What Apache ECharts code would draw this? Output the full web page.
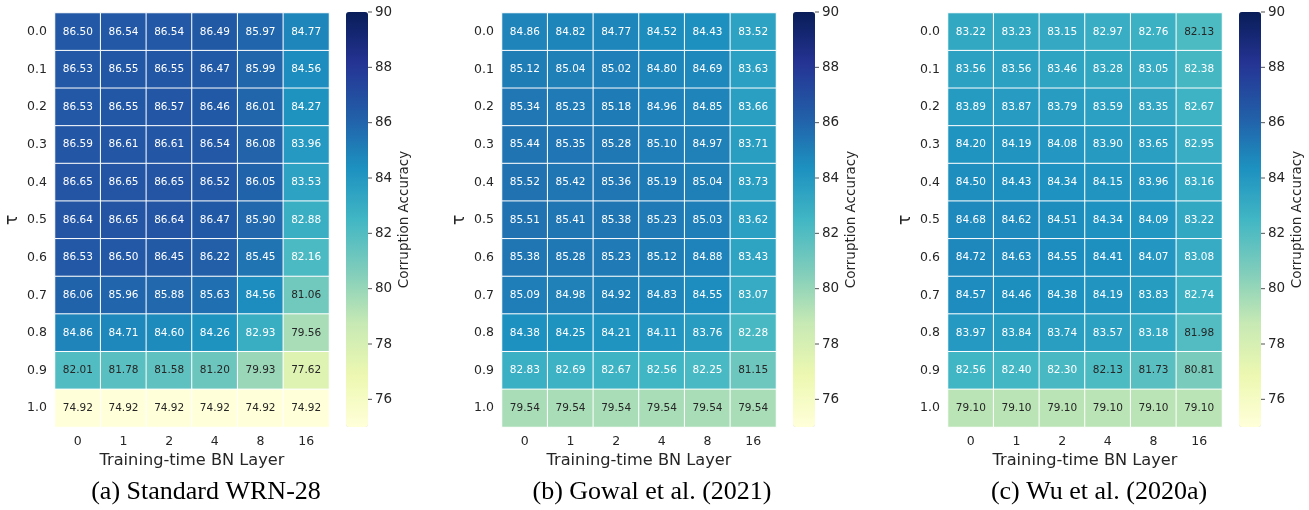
<!DOCTYPE html>
<html><head><meta charset="utf-8">
<script src="https://cdn.jsdelivr.net/npm/echarts@6/dist/echarts.min.js"></script>
<style>html,body{margin:0;padding:0;background:#fff}#c{width:1309px;height:510px}</style>
</head><body><div id="c"></div>
<script>
const xCats = ['0','1','2','4','8','16'];
const yCats = ['0.0','0.1','0.2','0.3','0.4','0.5','0.6','0.7','0.8','0.9','1.0'];
const cbTicks = [76,78,80,82,84,86,88,90];
const captions = ['(a) Standard WRN-28','(b) Gowal et al. (2021)','(c) Wu et al. (2020a)'];

const valsA = [
 [86.50,86.54,86.54,86.49,85.97,84.77],
 [86.53,86.55,86.55,86.47,85.99,84.56],
 [86.53,86.55,86.57,86.46,86.01,84.27],
 [86.59,86.61,86.61,86.54,86.08,83.96],
 [86.65,86.65,86.65,86.52,86.05,83.53],
 [86.64,86.65,86.64,86.47,85.90,82.88],
 [86.53,86.50,86.45,86.22,85.45,82.16],
 [86.06,85.96,85.88,85.63,84.56,81.06],
 [84.86,84.71,84.60,84.26,82.93,79.56],
 [82.01,81.78,81.58,81.20,79.93,77.62],
 [74.92,74.92,74.92,74.92,74.92,74.92]
];
const valsB = [
 [84.86,84.82,84.77,84.52,84.43,83.52],
 [85.12,85.04,85.02,84.80,84.69,83.63],
 [85.34,85.23,85.18,84.96,84.85,83.66],
 [85.44,85.35,85.28,85.10,84.97,83.71],
 [85.52,85.42,85.36,85.19,85.04,83.73],
 [85.51,85.41,85.38,85.23,85.03,83.62],
 [85.38,85.28,85.23,85.12,84.88,83.43],
 [85.09,84.98,84.92,84.83,84.55,83.07],
 [84.38,84.25,84.21,84.11,83.76,82.28],
 [82.83,82.69,82.67,82.56,82.25,81.15],
 [79.54,79.54,79.54,79.54,79.54,79.54]
];
const valsC = [
 [83.22,83.23,83.15,82.97,82.76,82.13],
 [83.56,83.56,83.46,83.28,83.05,82.38],
 [83.89,83.87,83.79,83.59,83.35,82.67],
 [84.20,84.19,84.08,83.90,83.65,82.95],
 [84.50,84.43,84.34,84.15,83.96,83.16],
 [84.68,84.62,84.51,84.34,84.09,83.22],
 [84.72,84.63,84.55,84.41,84.07,83.08],
 [84.57,84.46,84.38,84.19,83.83,82.74],
 [83.97,83.84,83.74,83.57,83.18,81.98],
 [82.56,82.40,82.30,82.13,81.73,80.81],
 [79.10,79.10,79.10,79.10,79.10,79.10]
];

const YlGnBu = ['#ffffd9','#edf8b1','#c7e9b4','#7fcdbb','#41b6c4','#1d91c0','#225ea8','#253494','#081d58'];
const FONT = 'DejaVu Sans';
const panels = [valsA, valsB, valsC];
const gridLeft = [55, 502, 948];
const cbLeft = [346, 793, 1239];
const capX = [206, 652, 1099];
const GT = 13, GH = 414, GW = 274, CBW = 22;

const grid = [], xAxis = [], yAxis = [], series = [], visualMap = [], graphic = [];
panels.forEach((vals, p) => {
  grid.push({left: gridLeft[p], top: GT, width: GW, height: GH});
  xAxis.push({type:'category', gridIndex: 2*p, data: xCats, axisLine:{show:false}, axisTick:{show:false}, splitArea:{show:false},
    axisLabel:{fontFamily:FONT, fontSize:12.5, color:'#262626', margin:8},
    name:'Training-time BN Layer', nameLocation:'middle', nameGap:21, nameTextStyle:{fontFamily:FONT, fontSize:16.2, color:'#262626'}});
  yAxis.push({type:'category', gridIndex: 2*p, data: yCats, inverse:true, axisLine:{show:false}, axisTick:{show:false},
    axisLabel:{fontFamily:FONT, fontSize:12.5, color:'#262626', margin:8},
    name:'τ', nameLocation:'middle', nameGap:34, nameRotate:90, nameTextStyle:{fontFamily:FONT, fontSize:17, color:'#262626'}});
  const data = [];
  vals.forEach((row, yi) => row.forEach((v, xi) => {
    data.push({value:[xi, yi, v], label:{color: v < 82.15 ? '#262626' : '#ffffff'}});
  }));
  series.push({type:'heatmap', xAxisIndex: 2*p, yAxisIndex: 2*p, data,
    itemStyle:{borderColor:'#ffffff', borderWidth:1},
    label:{show:true, fontFamily:FONT, fontSize:10.5, formatter: d => d.value[2].toFixed(2)},
    emphasis:{disabled:true}});
  grid.push({left: cbLeft[p], top: 12, width: CBW, height: 415});
  xAxis.push({type:'value', gridIndex: 2*p+1, show:false, min:0, max:1});
  yAxis.push({type:'value', gridIndex: 2*p+1, position:'right', min:75, max:90,
    axisLine:{show:false}, splitLine:{show:false},
    axisTick:{show:false},
    axisLabel:{fontFamily:FONT, fontSize:13.5, color:'#262626', margin:7, customValues: cbTicks},
    name:'Corruption Accuracy', nameLocation:'middle', nameRotate:90, nameGap:29,
    nameTextStyle:{fontFamily:FONT, fontSize:13.5, color:'#262626'}});
  visualMap.push({type:'continuous', seriesIndex: p, min:75, max:90, orient:'vertical',
    left: cbLeft[p], top: 12, itemWidth: CBW, itemHeight: 415, padding:0,
    calculable:false, hoverLink:false, text:null, showLabel:false,
    inRange:{color: YlGnBu}});
  graphic.push({type:'text', x: capX[p], y: 479,
    style:{text: captions[p], font: '26px "Liberation Serif"', fill:'#000', textAlign:'center', textVerticalAlign:'top'}});
});
// colorbar tick marks, placed through the colorbar axes
panels.forEach((vals, p) => {
  series.push({type:'scatter', xAxisIndex: 2*p+1, yAxisIndex: 2*p+1, silent:true,
    data: cbTicks.map(t => [1, t]), symbol:'rect', symbolSize:[4,1], symbolOffset:[2,0],
    itemStyle:{color:'#262626'}, z:10});
});

const chart = echarts.init(document.getElementById('c'), null, {renderer:'canvas'});
chart.setOption({animation:false, backgroundColor:'#fff', grid, xAxis, yAxis, series, visualMap, graphic});
</script></body></html>
